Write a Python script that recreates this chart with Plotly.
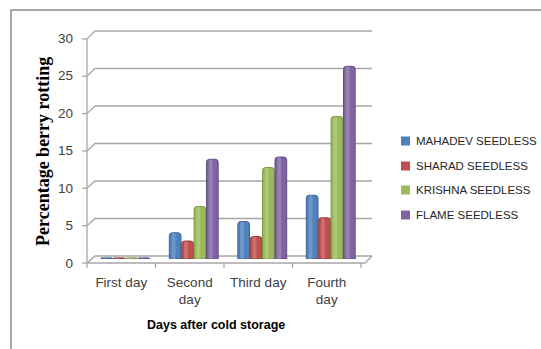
import plotly.graph_objects as go

categories = ["First day", "Second day", "Third day", "Fourth day"]
tick_labels = ["First day", "Second<br>day", "Third day", "Fourth<br>day"]
series_names = ["MAHADEV SEEDLESS", "SHARAD SEEDLESS", "KRISHNA SEEDLESS", "FLAME SEEDLESS"]
mahadev = [0.15, 3.5, 5.0, 8.5]
sharad = [0.15, 2.4, 3.0, 5.5]
krishna = [0.15, 7.0, 12.2, 19.0]
flame = [0.15, 13.3, 13.6, 25.7]
y_ticks = [0, 5, 10, 15, 20, 25, 30]

colors = ["#4F81BD", "#C0504D", "#9BBB59", "#8064A2"]
lines = ["#35598A", "#8E3532", "#6F8F38", "#5A4479"]

W, H = 541, 349
L, R, T, B = 91, 365, 34, 259  # plot area (pixels)

def px(x):
    return (x - L) / (R - L)

def py(y):
    return (B - y) / (B - T)

pitch, bw = 0.181, 0.171
fig = go.Figure()
for i, (name, vals, c, lc) in enumerate(zip(series_names, [mahadev, sharad, krishna, flame], colors, lines)):
    off = -2 * pitch + i * pitch + 0.005
    fig.add_trace(go.Bar(
        x=categories, y=vals, name=name, offset=off, width=bw,
        marker=dict(color=c, line=dict(color=lc, width=0.9), cornerradius=3),
        showlegend=False,
    ))
    fig.add_trace(go.Bar(
        x=categories, y=vals, name=name, offset=off + 0.035, width=0.055,
        marker=dict(color="rgba(255,255,255,0.18)", line=dict(width=0), cornerradius=2),
        showlegend=False, hoverinfo="skip",
    ))

shapes = []
grid_col = "#A6A6A6"
for v in y_ticks:
    fy = 263 - 7.47 * v
    by = 256 - 7.5 * v
    shapes.append(dict(type="path", xref="paper", yref="paper", layer="below",
                       path=f"M{px(87)},{py(fy)} L{px(95)},{py(by)} L{px(372)},{py(by)}",
                       line=dict(color=grid_col, width=1.3)))
    shapes.append(dict(type="line", xref="paper", yref="paper", layer="below",
                       x0=px(82), x1=px(87), y0=py(fy), y1=py(fy),
                       line=dict(color=grid_col, width=1.3)))
shapes.append(dict(type="path", xref="paper", yref="paper", layer="below",
                   path=f"M{px(87)},{py(263)} L{px(365)},{py(263)} L{px(372)},{py(256)}",
                   line=dict(color=grid_col, width=1.3)))
shapes.append(dict(type="line", xref="paper", yref="paper", layer="below",
                   x0=px(87), x1=px(87), y0=py(263), y1=py(39),
                   line=dict(color=grid_col, width=1.3)))
for xt in [87, 155.5, 224, 292.5, 361]:
    shapes.append(dict(type="line", xref="paper", yref="paper", layer="below",
                       x0=px(xt), x1=px(xt), y0=py(263), y1=py(268),
                       line=dict(color=grid_col, width=1.3)))
shapes.append(dict(type="path", xref="paper", yref="paper",
                   path=f"M{px(11)},{py(360)} L{px(11)},{py(10)} L{px(560)},{py(10)}",
                   line=dict(color="#8C8C8C", width=1.5)))

annotations = []
leg_y = [141, 166, 190, 215]
for name, c, ly in zip(series_names, colors, leg_y):
    shapes.append(dict(type="rect", xref="paper", yref="paper",
                       x0=px(401), x1=px(410), y0=py(ly - 4.5), y1=py(ly + 4.5),
                       fillcolor=c, line=dict(width=0)))
    annotations.append(dict(text=name, xref="paper", yref="paper",
                            x=px(414), y=py(ly), xanchor="left", yanchor="middle",
                            showarrow=False,
                            font=dict(family="Liberation Sans", size=11.5, color="#262626")))

annotations.append(dict(text="<b>Percentage berry rotting</b>", xref="paper", yref="paper",
                        x=px(43), y=py(152), xanchor="center", yanchor="middle",
                        textangle=-90, showarrow=False,
                        font=dict(family="Liberation Serif", size=18, color="#000000")))
annotations.append(dict(text="<b>Days after cold storage</b>", xref="paper", yref="paper",
                        x=px(216), y=py(325), xanchor="center", yanchor="middle",
                        showarrow=False,
                        font=dict(family="Liberation Sans", size=12.5, color="#000000")))

fig.update_layout(
    width=W, height=H,
    margin=dict(l=L, r=W - R, t=T, b=H - B, pad=0),
    paper_bgcolor="white", plot_bgcolor="white",
    barmode="overlay",
    shapes=shapes, annotations=annotations,
    xaxis=dict(tickmode="array", tickvals=categories, ticktext=tick_labels,
               range=[-0.5, 3.5],
               showgrid=False, showline=False, ticks="", zeroline=False,
               ticklabelshift=-4, ticklabelstandoff=13,
               tickfont=dict(family="Liberation Sans", size=13.5, color="#404040")),
    yaxis=dict(range=[0, 30], tickvals=y_ticks, showgrid=False, showline=False,
               zeroline=False, ticks="", ticklabelshift=4, ticklabelstandoff=17,
               tickfont=dict(family="Liberation Sans", size=13.5, color="#404040")),
)

fig.write_html("out.html", config={"displayModeBar": False},
               post_script="document.body.style.margin='0';")
